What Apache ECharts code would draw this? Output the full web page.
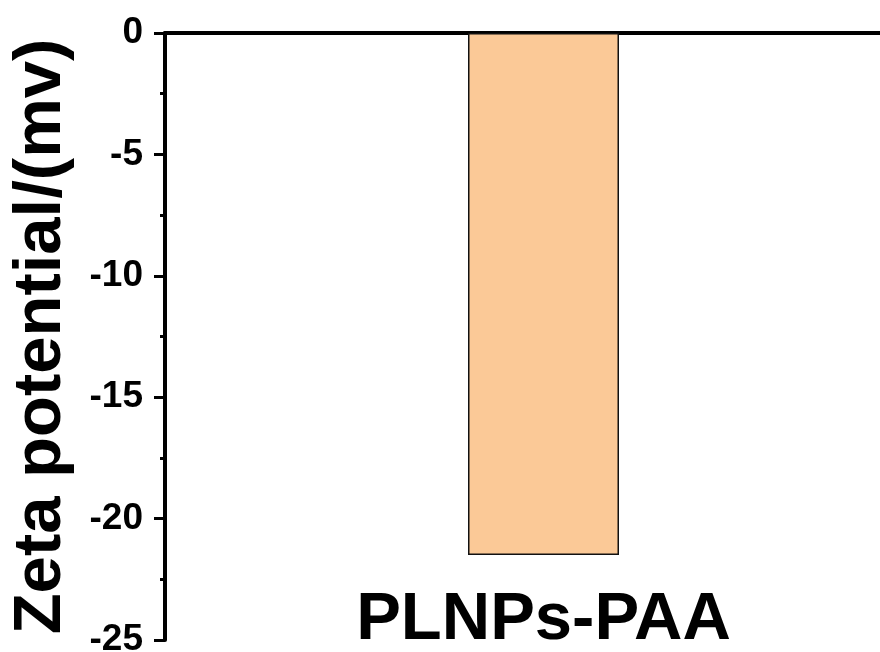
<!DOCTYPE html>
<html>
<head>
<meta charset="utf-8">
<script src="https://cdn.jsdelivr.net/npm/echarts@6/dist/echarts.min.js"></script>
<style>html,body{margin:0;padding:0;background:#fff;overflow:hidden;}#c{width:880px;height:652px;}</style>
</head>
<body>
<div id="c"></div>
<script>
const categories = ['PLNPs-PAA'];
const zetaValues = [-21.5];
const yTitle = 'Zeta potential/(mv)';

const chart = echarts.init(document.getElementById('c'), null, {renderer: 'canvas'});
const font = 'Liberation Sans, Arial, sans-serif';
chart.setOption({
  animation: false,
  backgroundColor: '#ffffff',
  grid: {left: 165, width: 757, top: 33, height: 607, containLabel: false, outerBoundsMode: 'none'},
  xAxis: [
    {
      type: 'category', data: categories, position: 'top',
      axisLine: {show: true, onZero: false, lineStyle: {color: '#000', width: 4}},
      axisTick: {show: false}, axisLabel: {show: false}, splitLine: {show: false}
    },
    {
      type: 'category', data: categories, position: 'bottom',
      axisLine: {show: false}, axisTick: {show: false},
      axisLabel: {show: true, margin: -19, verticalAlign: 'middle', color: '#000',
        fontFamily: font, fontWeight: 'bold', fontSize: 67}
    }
  ],
  yAxis: {
    type: 'value', min: -25, max: 0, interval: 5,
    name: yTitle, nameLocation: 'middle', nameRotate: 90, nameGap: 90,
    nameTextStyle: {fontFamily: font, fontWeight: 'bold', fontSize: 67, color: '#000', padding: [0, 0, 0, 0]},
    axisLine: {show: true, lineStyle: {color: '#000', width: 4}},
    axisTick: {show: true, inside: false, length: 11, lineStyle: {color: '#000', width: 3}},
    minorTick: {show: true, splitNumber: 2, length: 5, lineStyle: {color: '#000', width: 3}},
    axisLabel: {margin: 22, color: '#000', fontFamily: font, fontWeight: 'bold', fontSize: 37},
    splitLine: {show: false}
  },
  series: [{
    type: 'bar', data: zetaValues, xAxisIndex: 0, barWidth: 151,
    itemStyle: {color: '#FBC997', borderColor: '#111', borderWidth: 1.5}
  }]
});
</script>
</body>
</html>
